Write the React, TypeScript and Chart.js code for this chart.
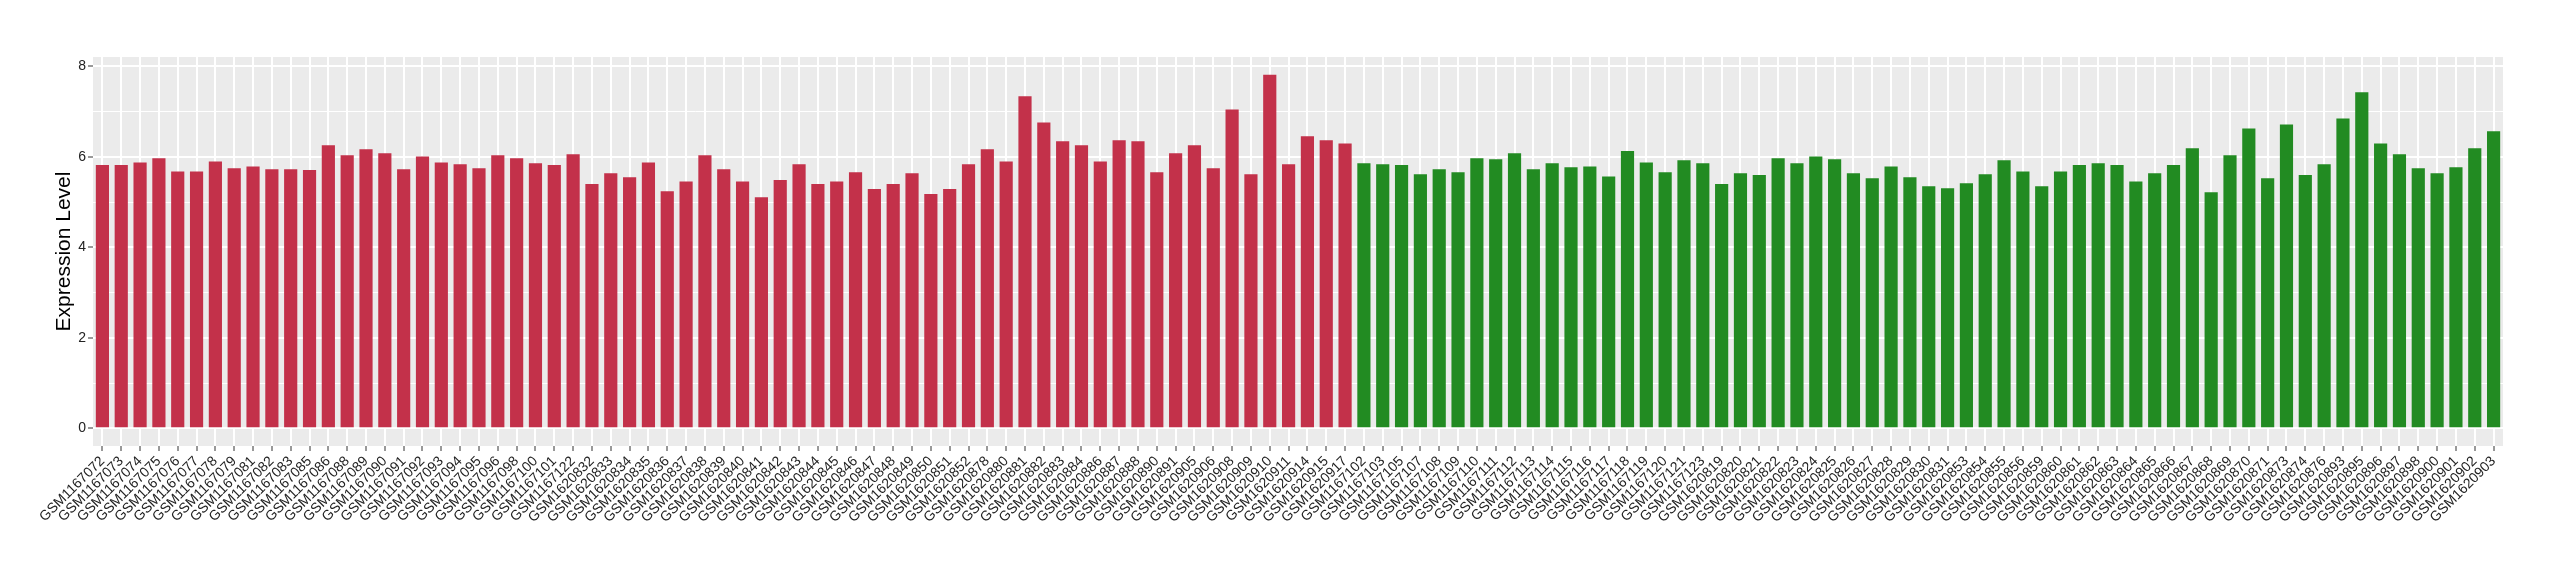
import React, { useEffect, useRef } from "react";
import { Chart, registerables } from "chart.js";

Chart.register(...registerables);

const sampleLabels: string[] = [
  "GSM1167072", "GSM1167073", "GSM1167074", "GSM1167075", "GSM1167076", "GSM1167077", "GSM1167078", "GSM1167079",
  "GSM1167081", "GSM1167082", "GSM1167083", "GSM1167085", "GSM1167086", "GSM1167088", "GSM1167089", "GSM1167090",
  "GSM1167091", "GSM1167092", "GSM1167093", "GSM1167094", "GSM1167095", "GSM1167096", "GSM1167098", "GSM1167100",
  "GSM1167101", "GSM1167122", "GSM1620832", "GSM1620833", "GSM1620834", "GSM1620835", "GSM1620836", "GSM1620837",
  "GSM1620838", "GSM1620839", "GSM1620840", "GSM1620841", "GSM1620842", "GSM1620843", "GSM1620844", "GSM1620845",
  "GSM1620846", "GSM1620847", "GSM1620848", "GSM1620849", "GSM1620850", "GSM1620851", "GSM1620852", "GSM1620878",
  "GSM1620880", "GSM1620881", "GSM1620882", "GSM1620883", "GSM1620884", "GSM1620886", "GSM1620887", "GSM1620888",
  "GSM1620890", "GSM1620891", "GSM1620905", "GSM1620906", "GSM1620908", "GSM1620909", "GSM1620910", "GSM1620911",
  "GSM1620914", "GSM1620915", "GSM1620917",
  "GSM1167102", "GSM1167103", "GSM1167105", "GSM1167107", "GSM1167108", "GSM1167109", "GSM1167110", "GSM1167111",
  "GSM1167112", "GSM1167113", "GSM1167114", "GSM1167115", "GSM1167116", "GSM1167117", "GSM1167118", "GSM1167119",
  "GSM1167120", "GSM1167121", "GSM1167123", "GSM1620819", "GSM1620820", "GSM1620821", "GSM1620822", "GSM1620823",
  "GSM1620824", "GSM1620825", "GSM1620826", "GSM1620827", "GSM1620828", "GSM1620829", "GSM1620830", "GSM1620831",
  "GSM1620853", "GSM1620854", "GSM1620855", "GSM1620856", "GSM1620859", "GSM1620860", "GSM1620861", "GSM1620862",
  "GSM1620863", "GSM1620864", "GSM1620865", "GSM1620866", "GSM1620867", "GSM1620868", "GSM1620869", "GSM1620870",
  "GSM1620871", "GSM1620873", "GSM1620874", "GSM1620876", "GSM1620893", "GSM1620895", "GSM1620896", "GSM1620897",
  "GSM1620898", "GSM1620900", "GSM1620901", "GSM1620902", "GSM1620903",
];

// first group (red) values
const groupAValues: number[] = [
  5.82, 5.82, 5.88, 5.97, 5.68, 5.68, 5.90, 5.75, 5.79, 5.73, 5.73, 5.71, 6.26, 6.04, 6.17, 6.08,
  5.73, 6.01, 5.88, 5.84, 5.75, 6.04, 5.97, 5.86, 5.82, 6.06, 5.40, 5.64, 5.55, 5.88, 5.24, 5.46,
  6.04, 5.73, 5.46, 5.11, 5.49, 5.84, 5.40, 5.46, 5.66, 5.29, 5.40, 5.64, 5.18, 5.29, 5.84, 6.17,
  5.90, 7.34, 6.76, 6.35, 6.26, 5.90, 6.37, 6.35, 5.66, 6.08, 6.26, 5.75, 7.05, 5.62, 7.82, 5.84,
  6.46, 6.37, 6.30,
];

// second group (green) values
const groupBValues: number[] = [
  5.86, 5.84, 5.82, 5.62, 5.73, 5.66, 5.97, 5.95, 6.08, 5.73, 5.86, 5.77, 5.79, 5.57, 6.13, 5.88,
  5.66, 5.93, 5.86, 5.40, 5.64, 5.60, 5.97, 5.86, 6.01, 5.95, 5.64, 5.53, 5.79, 5.55, 5.35, 5.31,
  5.42, 5.62, 5.93, 5.68, 5.35, 5.68, 5.82, 5.86, 5.82, 5.46, 5.64, 5.82, 6.19, 5.22, 6.04, 6.63,
  5.53, 6.72, 5.60, 5.84, 6.85, 7.43, 6.30, 6.06, 5.75, 5.64, 5.77, 6.19, 6.57,
];

const groupColors: string[] = ["#C3314A", "#228B22"];
const yTickValues: number[] = [0, 1, 2, 3, 4, 5, 6, 7, 8];

const FONT = "'Liberation Sans', Arial, Helvetica, sans-serif";

export default function App() {
  const canvasRef = useRef<HTMLCanvasElement | null>(null);

  useEffect(() => {
    document.body.style.margin = "0";
    const canvas = canvasRef.current;
    if (!canvas) return;

    const values = [...groupAValues, ...groupBValues];
    const colors = values.map((_, i) => (i < groupAValues.length ? groupColors[0] : groupColors[1]));

    const panelBg = {
      id: "panelBg",
      beforeDraw(chart: any) {
        const { ctx, chartArea } = chart;
        ctx.save();
        ctx.fillStyle = "#EBEBEB";
        ctx.fillRect(chartArea.left, chartArea.top, chartArea.right - chartArea.left, chartArea.bottom - chartArea.top);
        ctx.restore();
      },
    };

    const chart = new Chart(canvas, {
      type: "bar",
      data: {
        labels: sampleLabels,
        datasets: [
          {
            data: values,
            backgroundColor: colors,
            borderWidth: 0,
            barPercentage: 0.7,
            categoryPercentage: 1,
          },
        ],
      },
      plugins: [panelBg],
      options: {
        responsive: false,
        animation: false,
        devicePixelRatio: 1,
        layout: { padding: { top: 57, right: 57, left: 0, bottom: 0 } },
        plugins: {
          legend: { display: false },
          tooltip: { enabled: false },
        },
        scales: {
          x: {
            type: "category",
            offset: true,
            afterFit: (scale: any) => {
              scale.height = 134;
            },
            border: { display: false },
            grid: {
              offset: false,
              color: "#FFFFFF",
              lineWidth: 2,
              drawTicks: true,
              tickLength: 5,
              tickColor: "#333333",
              tickWidth: 1,
            },
            ticks: {
              autoSkip: false,
              maxRotation: 45,
              minRotation: 45,
              padding: 2,
              color: "#222222",
              font: { family: FONT, size: 14 },
            },
          },
          y: {
            type: "linear",
            min: -0.39,
            max: 8.21,
            afterFit: (scale: any) => {
              scale.width = 93;
            },
            afterBuildTicks: (scale: any) => {
              scale.ticks = yTickValues.map((v) => ({ value: v }));
            },
            border: { display: false },
            grid: {
              color: "#FFFFFF",
              lineWidth: (ctx: any) => (ctx.tick && ctx.tick.value % 2 === 0 ? 2 : 1),
              drawTicks: true,
              tickLength: 5,
              tickWidth: 1,
              tickColor: (ctx: any) => (ctx.tick && ctx.tick.value % 2 === 0 ? "#333333" : "rgba(0,0,0,0)"),
            },
            ticks: {
              padding: 2,
              color: "#222222",
              font: { family: FONT, size: 14 },
              callback: (v: any) => (Number(v) % 2 === 0 ? String(v) : ""),
            },
            title: {
              display: true,
              text: "Expression Level",
              color: "#000000",
              font: { family: FONT, size: 21 },
              padding: { top: 52, bottom: 0 },
            },
          },
        },
      },
    } as any);

    return () => {
      chart.destroy();
    };
  }, []);

  return <canvas ref={canvasRef} width={2560} height={580} style={{ display: "block", width: 2560, height: 580 }} />;
}
